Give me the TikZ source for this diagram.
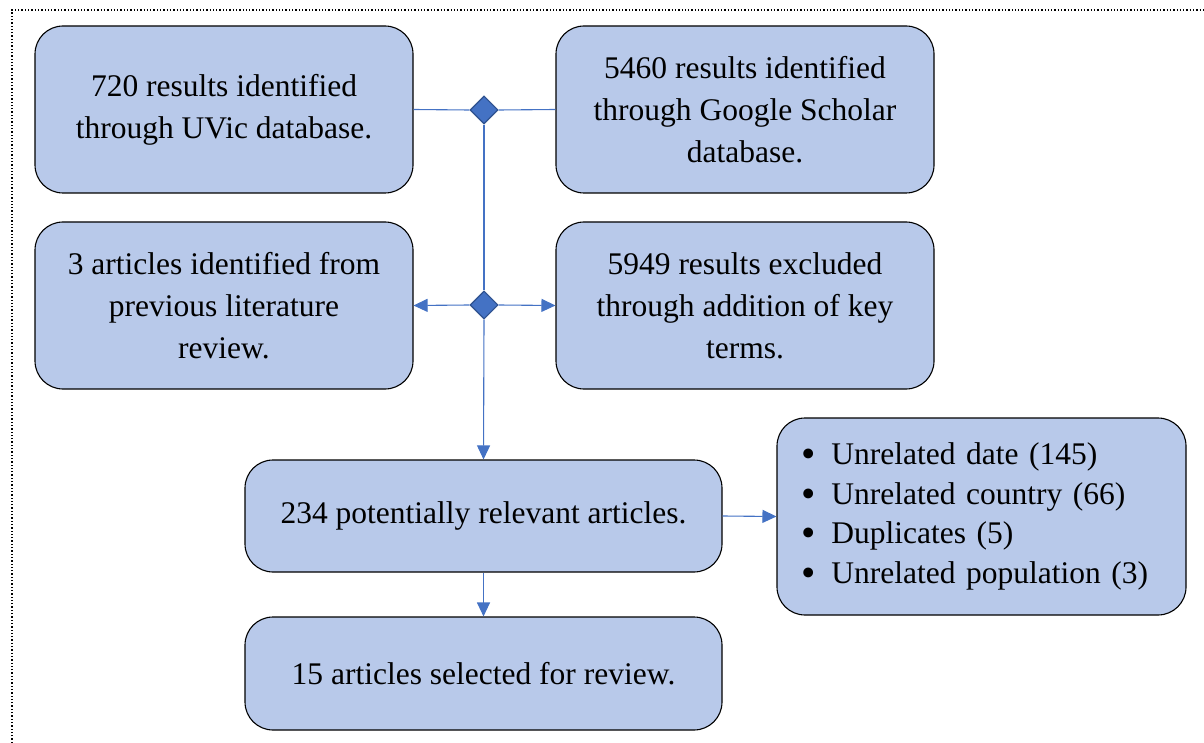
\documentclass[tikz,border=0pt]{standalone}
\usepackage{fontspec}
\setmainfont{Liberation Serif}
\usetikzlibrary{shapes.geometric,arrows.meta}
\definecolor{boxfill}{HTML}{B8C9EA}
\definecolor{conn}{HTML}{4472C4}
\definecolor{diadraw}{HTML}{2F528F}
\tikzset{
  box/.style={draw=black, line width=1.1pt, fill=boxfill, rounded corners=28pt, align=center,
     font=\fontsize{31.5}{42}\selectfont, text=black, inner sep=0pt},
  dia/.style={diamond, draw=diadraw, line width=1.1pt, fill=conn, minimum width=28pt, minimum height=28pt, inner sep=0pt},
  conline/.style={draw=conn, line width=1.1pt},
  arr/.style={conline, -{Triangle[length=14pt,width=13pt]}},
}
\newcommand{\bigbul}{\hspace{2pt}\raisebox{-3pt}{\scalebox{1.3}{\textbullet}}\hspace{16pt}}
\begin{document}
\begin{tikzpicture}[x=1pt,y=-1pt]
\useasboundingbox (0,0) rectangle (1204,743);
\draw[dotted, line width=1.3pt] (12,743) -- (12,10) -- (1204,10);
\node[box, minimum width=378pt, minimum height=167pt] (a) at (224,109.5) {720 results identified\\through UVic database.};
\node[box, minimum width=378pt, minimum height=167pt] (b) at (745,109.5) {5460 results identified\\through Google Scholar\\database.};
\node[box, minimum width=378pt, minimum height=167pt] (c) at (224,305.5) {3 articles identified from\\previous literature\\review.};
\node[box, minimum width=378pt, minimum height=167pt] (d) at (745,305.5) {5949 results excluded\\through addition of key\\terms.};
\node[box, minimum width=477pt, minimum height=112pt] (e) at (483.5,516) {234 potentially relevant articles.};
\node[box, minimum width=477pt, minimum height=113pt] (f) at (483.5,673.5) {15 articles selected for review.};
\node[box, minimum width=409pt, minimum height=197pt, align=left, text width=365pt,
      font=\fontsize{31.5}{39.5}\selectfont] (g) at (981.5,516.5) {%
\bigbul Unrelated date (145)\\
\bigbul Unrelated country (66)\\
\bigbul Duplicates (5)\\
\bigbul Unrelated population (3)};
\node[dia] (d1) at (484,110) {};
\node[dia] (d2) at (484,305) {};
\draw[conline] (a.east) -- (d1.west);
\draw[conline] (d1.east) -- (b.west);
\draw[conline] (d1.south) -- (d2.north);
\draw[arr] (d2.south) -- (e.north);
\draw[arr] (d2.west) -- (c.east);
\draw[arr] (d2.east) -- (d.west);
\draw[arr] (e.east) -- (g.west);
\draw[arr] (e.south) -- (f.north);
\end{tikzpicture}
\end{document}
